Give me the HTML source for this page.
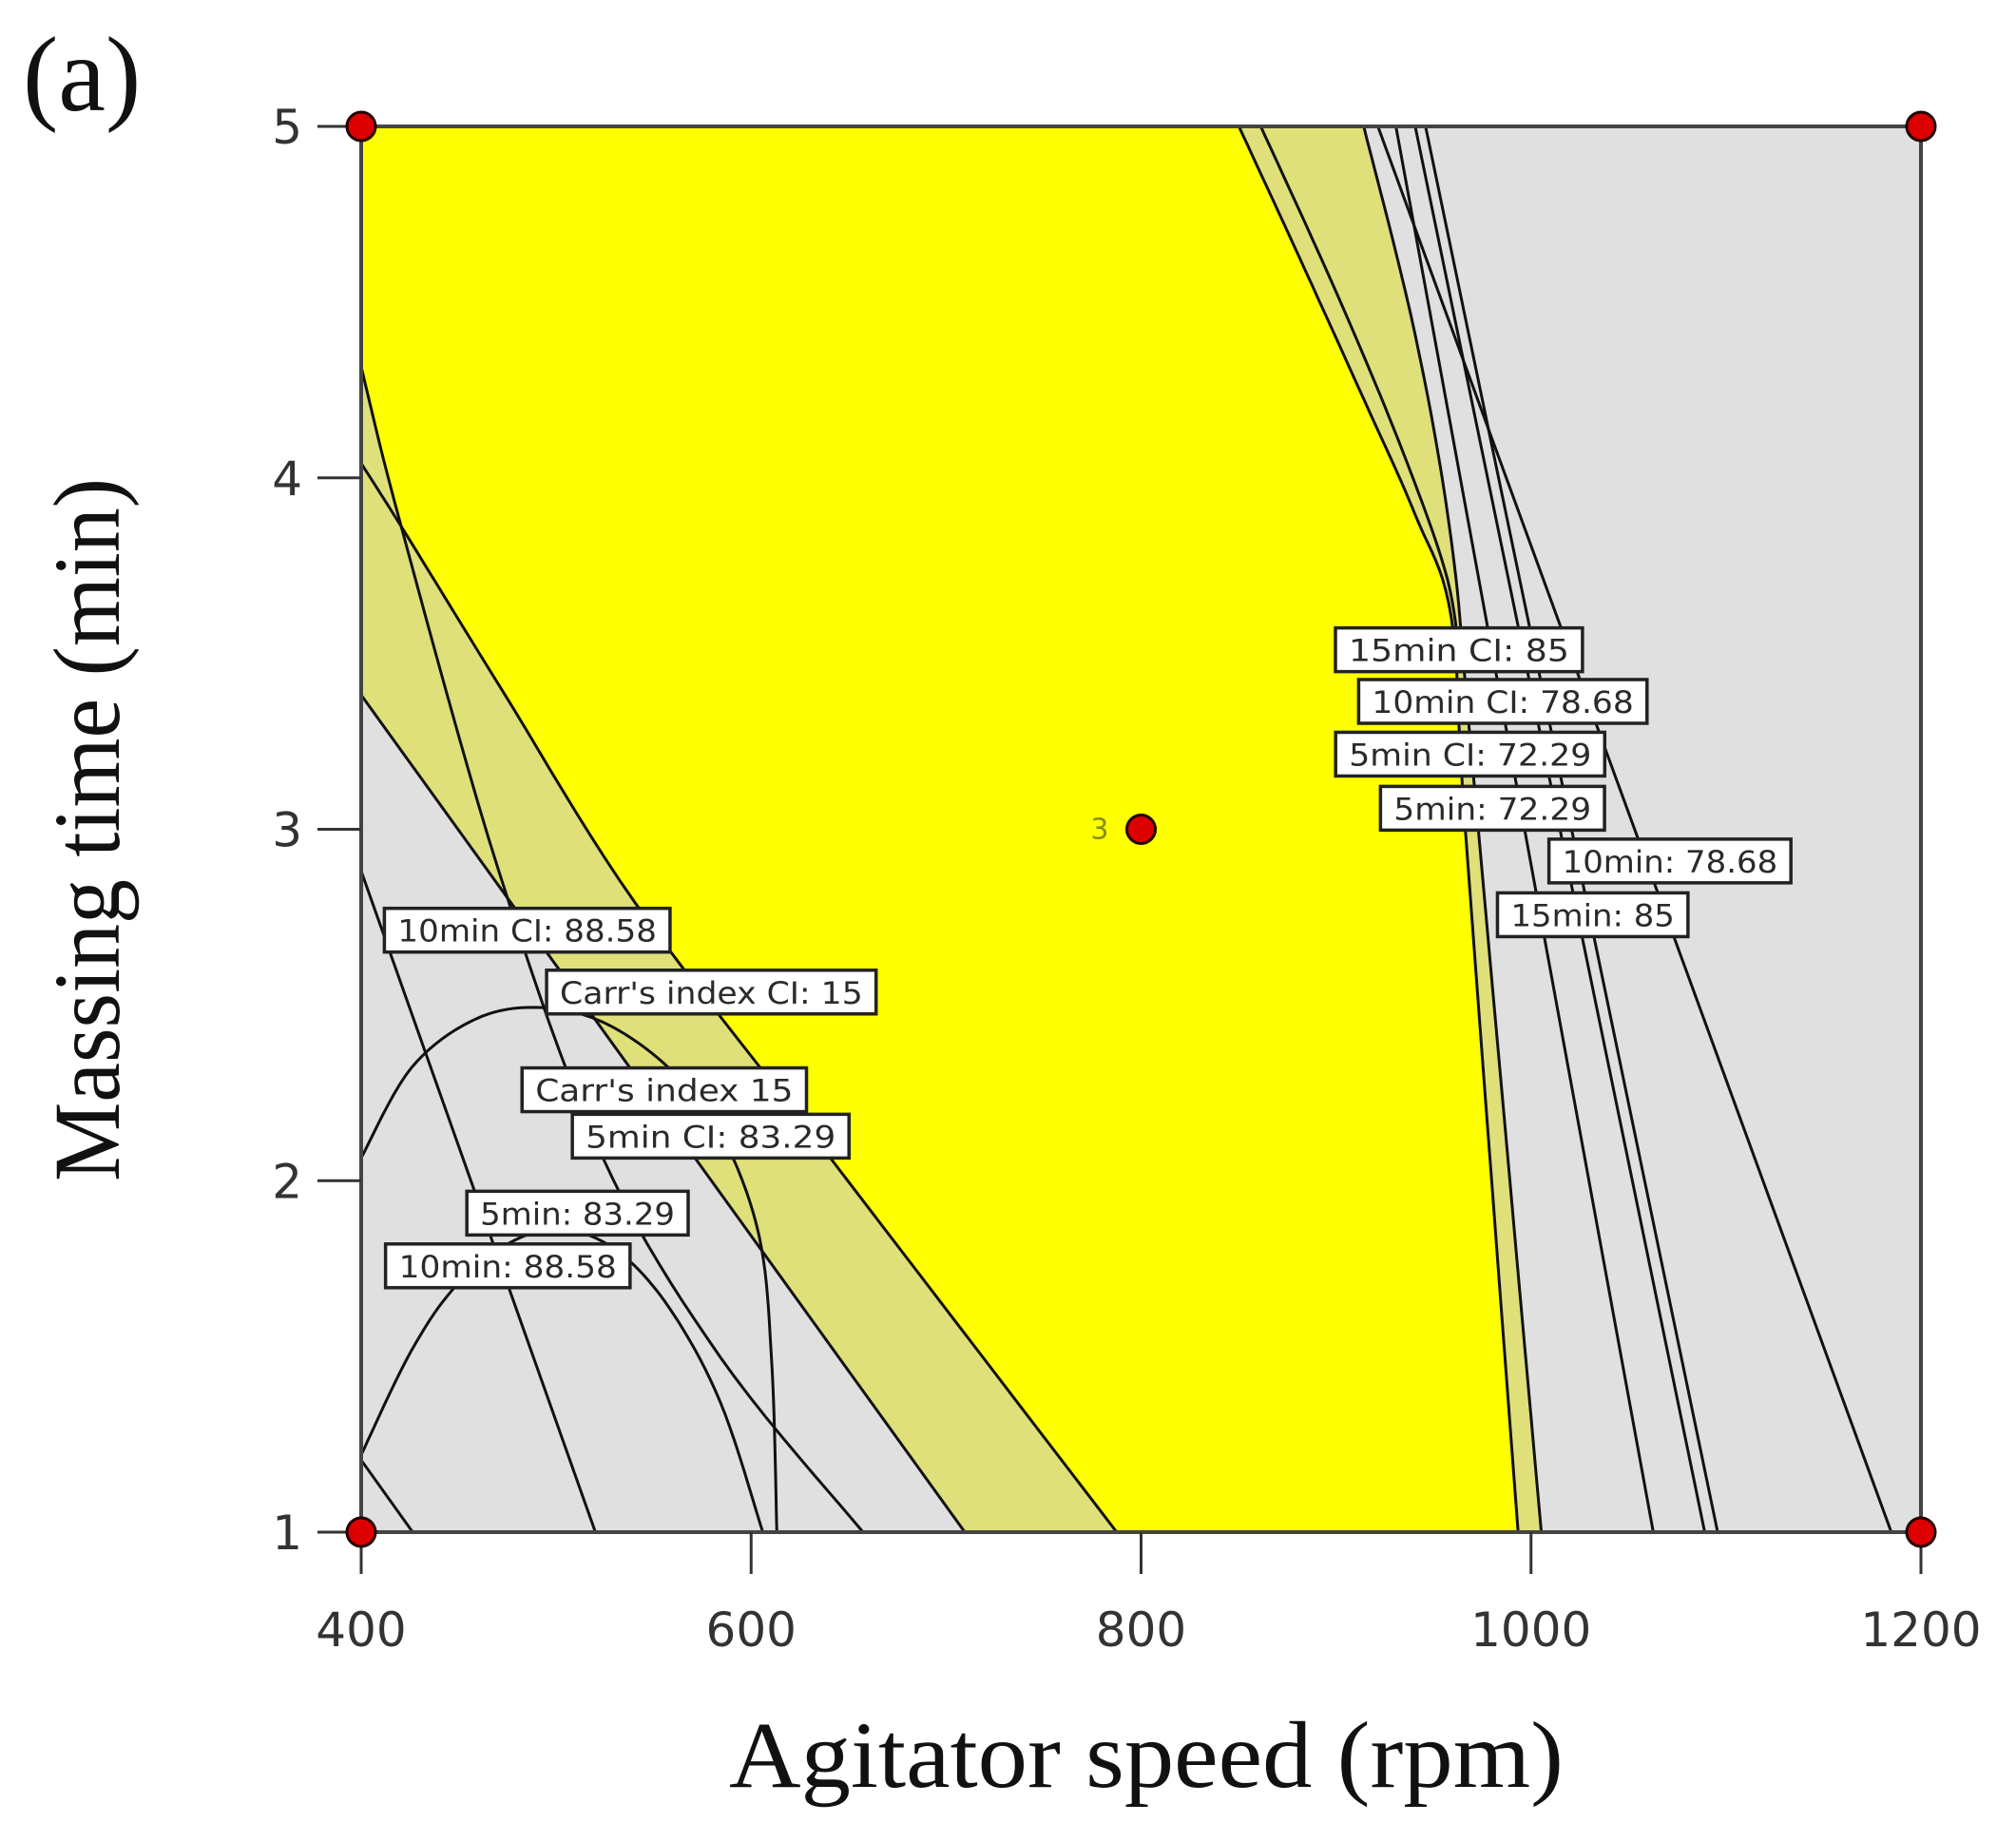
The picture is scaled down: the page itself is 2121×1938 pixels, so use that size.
<!DOCTYPE html>
<html><head><meta charset="utf-8"><style>
html,body{margin:0;padding:0;background:#fff;}
svg{display:block;}
.lbl{font-family:"DejaVu Sans","Liberation Sans",sans-serif;font-size:32px;fill:#2a2a2a;}
.tick{font-family:"DejaVu Sans","Liberation Sans",sans-serif;font-size:50px;fill:#333;}
.title{font-family:"Liberation Serif",serif;fill:#111;}
</style></head><body>
<svg id="chart" width="2121" height="1938" viewBox="0 0 2121 1938" xmlns="http://www.w3.org/2000/svg">
<text class="title" x="24" y="116" font-size="112">(a)</text>
<g id="plot"></g>
<text class="title" x="1206" y="1880" font-size="100" text-anchor="middle" textLength="878" lengthAdjust="spacingAndGlyphs">Agitator speed (rpm)</text>
<text class="title" x="0" y="0" font-size="100" text-anchor="middle" textLength="740" lengthAdjust="spacingAndGlyphs" transform="translate(125,873) rotate(-90)">Massing time (min)</text>
</svg>
<script>
// axis domains & ticks
const xTicks = [400, 600, 800, 1000, 1200];
const yTicks = [1, 2, 3, 4, 5];
// contour curves [rpm, min]
const curveA = [[850.2,5],[881.2,4.627],[914.2,4.224],[940.6,3.895],[959.1,3.602],[966.4,2.994],[993.4,1]];
const curveB = [[861.4,5],[901.0,4.517],[934.0,4.078],[957.1,3.712],[963.7,3.456]];
const curveC = [[914.2,5],[940.6,4.407],[959.1,3.822],[970.3,3.163],[1005.3,1]];
const lineD = [[930.7,5],[1062.7,1]];
const lineE = [[940.6,5],[1089.1,1]];
const lineF = [[945.9,5],[1095.7,1]];
const lineH = [[921.5,5],[1184.8,1]];
const curveS1 = [[400,4.316],[420.5,3.862],[470.6,2.881],[523.4,2.072],[584.2,1.498],[657.4,1]];
const curveB1 = [[400,4.041],[420.5,3.862],[472.6,3.393],[540.6,2.790],[639.6,2.072],[787.5,1]];
const lineB2 = [[400,3.382],[709.6,1]];
const lineL4 = [[400,2.881],[520.1,1]];
const dome5 = [[400,2.065],[425.7,2.321],[458.7,2.460],[491.7,2.493],[524.8,2.449],[557.8,2.321],[584.2,2.138],[604.0,1.845],[610.6,1.479],[613.2,1]];
const dome10 = [[400,1.220],[425.7,1.516],[449.5,1.706],[478.5,1.830],[505.0,1.860],[531.4,1.800],[557.8,1.640],[584.2,1.370],[606.0,1]];
const lineL5 = [[400,1.205],[426.4,1]];
// design points
const designPts = [[400,5],[1200,5],[400,1],[1200,1],[800,3]];
// flag labels: text, x(rpm) left, y(min) top, width(rpm)
const flagText = ["15min CI:  85","10min CI: 78.68","5min CI: 72.29","5min: 72.29","10min: 78.68","15min: 85","10min CI: 88.58","Carr's index CI: 15","Carr's index 15","5min CI:  83.29","5min: 83.29","10min: 88.58"];
const flagX = [899.7,911.6,899.8,922.8,1009.2,982.8,411.9,495.1,482.5,508.3,454.2,412.5];
const flagY = [3.573,3.426,3.276,3.122,2.972,2.819,2.775,2.599,2.321,2.189,1.970,1.820];
const flagW = [126.7,147.9,138.0,114.9,124.1,97.7,146.5,169.0,145.9,141.9,113.5,125.4];

const X0=380, X1=2021, Y0=1612, Y1=133;
const sx = v => X0 + (v-400)/800*(X1-X0);
const sy = v => Y0 - (v-1)/4*(Y0-Y1);
const NS='http://www.w3.org/2000/svg';
const plot=document.getElementById('plot');
function mk(tag, attrs){const e=document.createElementNS(NS,tag);for(const k in attrs)e.setAttribute(k,attrs[k]);return e;}
function sample(pts){
  const P=pts.map(p=>[sx(p[0]),sy(p[1])]);
  if(P.length<3) return P;
  const out=[];
  for(let i=0;i<P.length-1;i++){
    const p0=P[Math.max(0,i-1)],p1=P[i],p2=P[i+1],p3=P[Math.min(P.length-1,i+2)];
    for(let t=0;t<1;t+=0.1){
      const t2=t*t,t3=t2*t;
      const f=(a,b,c,d)=>0.5*((2*b)+(-a+c)*t+(2*a-5*b+4*c-d)*t2+(-a+3*b-3*c+d)*t3);
      out.push([f(p0[0],p1[0],p2[0],p3[0]),f(p0[1],p1[1],p2[1],p3[1])]);
    }
  }
  out.push(P[P.length-1]);
  return out;
}
const ptsStr = a => a.map(p=>p[0].toFixed(1)+','+p[1].toFixed(1)).join(' ');

const bg=mk('rect',{x:X0,y:Y1,width:X1-X0,height:Y0-Y1,fill:'#e0e0e0'});


plot.appendChild(bg);

const b1s=sample(curveB1);
const b1From=b1s.filter(p=>p[0]>=sx(420.5)-0.1);
const kL=[[sx(400),sy(4.316)],[sx(420.5),sy(3.862)],...b1From,[sx(lineB2[1][0]),sy(1)],[sx(400),sy(lineB2[0][1])]];
const khakiL=mk('polygon',{points:ptsStr(kL),fill:'#e0e07a'});


plot.appendChild(khakiL);

const as=sample(curveA), cs=sample(curveC);
const kR=[...as,[sx(curveC[curveC.length-1][0]),sy(1)],...cs.slice().reverse()];
const khakiR=mk('polygon',{points:ptsStr(kR),fill:'#e0e07a'});


plot.appendChild(khakiR);

const yP=[[sx(400),sy(5)],...as,...b1From.slice().reverse(),[sx(400),sy(4.316)]];
const yel=mk('polygon',{points:ptsStr(yP),fill:'#ffff00'});


plot.appendChild(yel);

const lines=[['curve-a',curveA],['curve-b',curveB],['curve-c',curveC],['line-d',lineD],['line-e',lineE],['line-f',lineF],['line-h',lineH],['curve-s1',curveS1],['curve-b1',curveB1],['line-b2',lineB2],['line-l4',lineL4],['dome-5min',dome5],['dome-10min',dome10],['line-l5',lineL5]];
lines.forEach(([n,arr])=>{
  const pl=mk('polyline',{points:ptsStr(sample(arr)),fill:'none',stroke:'#111','stroke-width':3});
  
  
  plot.appendChild(pl);
});

const border=mk('rect',{x:X0,y:Y1,width:X1-X0,height:Y0-Y1,fill:'none',stroke:'#444','stroke-width':4});


plot.appendChild(border);

xTicks.forEach(v=>{
  const t=mk('line',{x1:sx(v),x2:sx(v),y1:Y0,y2:Y0+44,stroke:'#333','stroke-width':3});
  
  
  plot.appendChild(t);
  const tx=mk('text',{x:sx(v),y:Y0+120,'text-anchor':'middle',class:'tick'});
  
  
  tx.textContent=v;
  plot.appendChild(tx);
});
yTicks.forEach(v=>{
  const t=mk('line',{x1:X0-46,x2:X0,y1:sy(v),y2:sy(v),stroke:'#333','stroke-width':3});
  
  
  plot.appendChild(t);
  const tx=mk('text',{x:X0-62,y:sy(v)+18,'text-anchor':'end',class:'tick'});
  
  
  tx.textContent=v;
  plot.appendChild(tx);
});

flagText.forEach((s,i)=>{
  const x=sx(flagX[i]), y=sy(flagY[i]), w=flagW[i]*(X1-X0)/800;
  const r=mk('rect',{x:x,y:y,width:w,height:46,fill:'#fff',stroke:'#222','stroke-width':3.5});
  
  
  plot.appendChild(r);
  const t=mk('text',{x:x+w/2,y:y+35,'text-anchor':'middle',class:'lbl',textLength:w-28,lengthAdjust:'spacingAndGlyphs'});
  
  
  t.textContent=s;
  plot.appendChild(t);
});

designPts.forEach(p=>{
  const c=mk('circle',{cx:sx(p[0]),cy:sy(p[1]),r:15,fill:'#dd0000',stroke:'#220000','stroke-width':3});
  
  
  plot.appendChild(c);
});
const cl=mk('text',{x:sx(800)-34,y:sy(3)+10,'text-anchor':'end','font-size':30,fill:'#8a8a10','font-family':'DejaVu Sans, sans-serif'});


cl.textContent='3';
plot.appendChild(cl);
</script>
</body></html>
